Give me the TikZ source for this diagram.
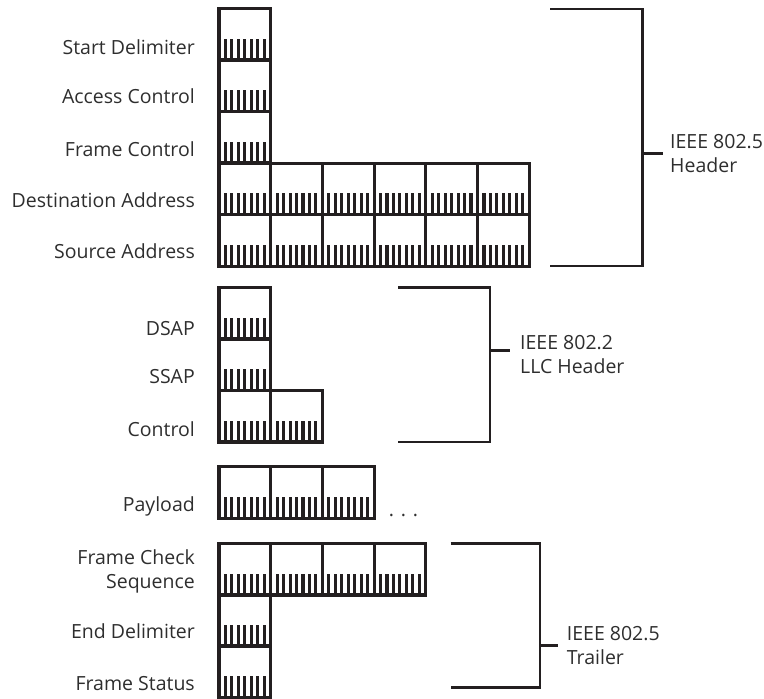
\documentclass[tikz,border=0pt]{standalone}
\usepackage{fontspec}
\setmainfont{Open Sans}
\usepackage{tikz}
\usepackage{xcolor}
\usetikzlibrary{positioning}
\definecolor{frameink}{HTML}{231F20}
\definecolor{labelink}{HTML}{2E2E2E}

\begin{document}
\begin{tikzpicture}[x=1pt,y=-1pt,
  cellline/.style={frameink,line width=3.2pt},
  tickline/.style={frameink,line width=3.1pt},
  bracketline/.style={frameink,line width=2.9pt},
  fieldlabel/.style={labelink,anchor=base east,inner sep=0pt,font=\fontsize{19.5}{24}\selectfont},
  grouplabel/.style={labelink,anchor=west,align=left,inner sep=0pt,font=\fontsize{19.5}{24}\selectfont}]
\useasboundingbox (0,0) rectangle (764,699);
% byte cells: top edge of the row / bytes in the row
\foreach \t/\n in {8.5/1,60/1,111.5/1,163.3/6,214.6/6,287.5/1,339/1,390.5/2,466.8/3,543.5/4,595/1,646/1} {
  \foreach \c in {1,...,\n} {
    \draw[cellline] ({219+(\c-1)*51.7},\t) rectangle ++(51.7,51.5);
    \foreach \k in {1,...,7}
      \draw[tickline] ({219+(\c-1)*51.7+\k*6.46},\t+51.5) -- ++(0,-21.5);
  }
}
\node[fieldlabel] (startdelim) at (195,54) {Start Delimiter};
\node[fieldlabel] (accessctl) at (195,103.5) {Access Control};
\node[fieldlabel] (framectl) at (195,156.5) {Frame Control};
\node[fieldlabel] (dstaddr) at (195,207) {Destination Address};
\node[fieldlabel] (srcaddr) at (195,258.5) {Source Address};
\node[fieldlabel] (dsap) at (195,335) {DSAP};
\node[fieldlabel] (ssap) at (195,383.5) {SSAP};
\node[fieldlabel] (llcctl) at (195,436.5) {Control};
\node[fieldlabel] (payload) at (195,511.5) {Payload};
\node[fieldlabel,anchor=east,align=right] (fcs) at (195,571) {Frame Check\\Sequence};
\node[fieldlabel] (enddelim) at (195,638.5) {End Delimiter};
\node[fieldlabel] (framestat) at (195,690) {Frame Status};
\node[labelink,anchor=base,inner sep=0pt,font=\fontsize{19.5}{24}\selectfont] (more) at (403.5,516) {. . .};
% brackets
\coordinate (hdtop) at (550,9);
\coordinate (hdbot) at (550,266);
\coordinate (hdjoin) at (642.3,153.3);
\draw[bracketline] (hdtop) -| (hdjoin) |- (hdbot);
\node[grouplabel] (hdtext) at (670,154) {IEEE 802.5\\Header};
\draw[bracketline] (hdjoin) -- ([xshift=-7.3pt]hdtext.west |- hdjoin);
\coordinate (llctop) at (398,287.3);
\coordinate (llcbot) at (398,442);
\coordinate (llcjoin) at (490,350.7);
\draw[bracketline] (llctop) -| (llcjoin) |- (llcbot);
\node[grouplabel] (llctext) at (520,355) {IEEE 802.2\\LLC Header};
\draw[bracketline] (llcjoin) -- ([xshift=-10pt]llctext.west |- llcjoin);
\coordinate (trtop) at (450.7,543.3);
\coordinate (trbot) at (450.7,687.3);
\coordinate (trjoin) at (540,645.5);
\draw[bracketline] (trtop) -| (trjoin) |- (trbot);
\node[grouplabel] (trtext) at (566.7,646) {IEEE 802.5\\Trailer};
\draw[bracketline] (trjoin) -- ([xshift=-8.7pt]trtext.west |- trjoin);
\end{tikzpicture}
\end{document}
